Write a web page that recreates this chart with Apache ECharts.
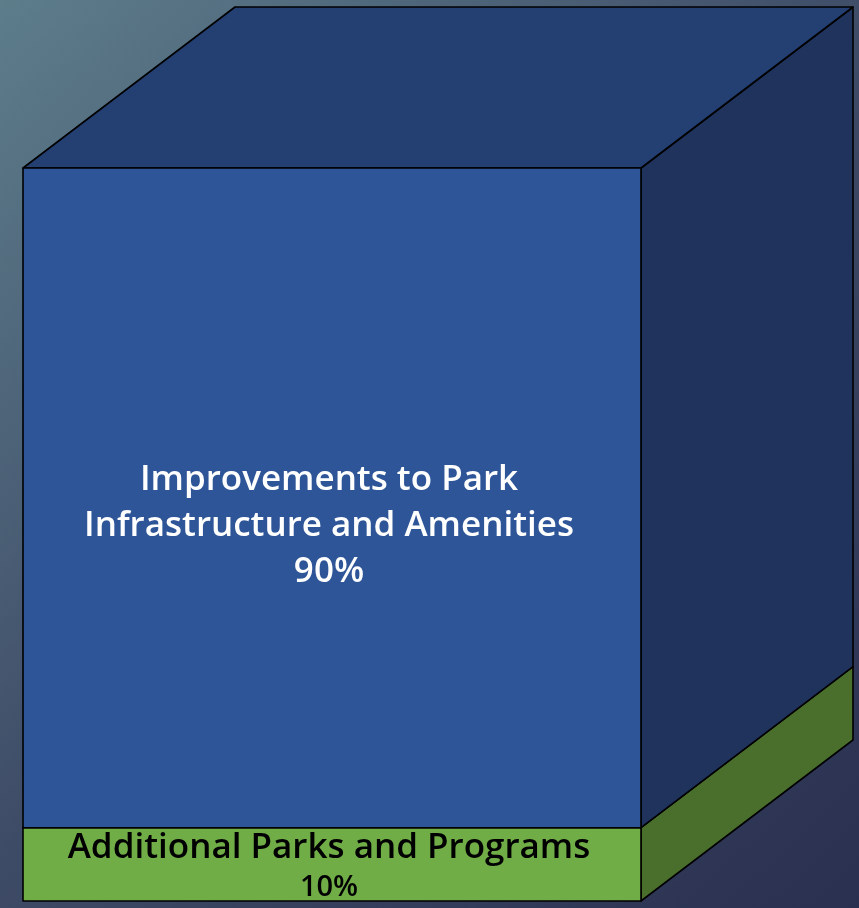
<!DOCTYPE html>
<html>
<head>
<meta charset="utf-8">
<script src="https://cdn.jsdelivr.net/npm/echarts@6/dist/echarts.min.js"></script>
<style>
html,body{margin:0;padding:0;width:859px;height:908px;overflow:hidden;}
#chart{width:859px;height:908px;}
</style>
</head>
<body>
<div id="chart"></div>
<script>
// ---- data ----
const categories = ['Budget'];
const segmentNames = ['Additional Parks and Programs', 'Improvements to Park Infrastructure and Amenities'];
const segmentLabels = ['Additional Parks and Programs', 'Improvements to Park\nInfrastructure and Amenities'];
const segmentValues = [10, 90];
const percentLabels = ['10%', '90%'];

// ---- style ----
const DEPTH_X = 212, DEPTH_Y = 161;
const palette = [
  { front: '#70ad47', side: '#4a6f2d', top: '#5b8a39', text: '#000000' },
  { front: '#2e5597', side: '#1f335d', top: '#243f72', text: '#ffffff' }
];
const labelOffsetY = [1, 28];

const chart = echarts.init(document.getElementById('chart'));

function makeRender(i) {
  return function (params, api) {
    const c = api.value(0);
    const p0 = api.coord([c, api.value(1)]);
    const p1 = api.coord([c, api.value(2)]);
    const bw = api.size([1, 0])[0];
    const l = p0[0] - bw / 2, r = p0[0] + bw / 2;
    const yb = p0[1], yt = p1[1];
    const col = palette[i];
    const stroke = { stroke: '#000', lineWidth: 1.6, lineJoin: 'round' };
    const children = [];
    children.push({ type: 'polygon', shape: { points: [[r, yt], [r + DEPTH_X, yt - DEPTH_Y], [r + DEPTH_X, yb - DEPTH_Y], [r, yb]] },
      style: Object.assign({ fill: col.side }, stroke) });
    if (i === segmentValues.length - 1) {
      children.push({ type: 'polygon', shape: { points: [[l, yt], [l + DEPTH_X, yt - DEPTH_Y], [r + DEPTH_X, yt - DEPTH_Y], [r, yt]] },
        style: Object.assign({ fill: col.top }, stroke) });
    }
    children.push({ type: 'rect', shape: { x: l, y: yt, width: r - l, height: yb - yt },
      style: Object.assign({ fill: col.front }, stroke) });
    const cx = (l + r) / 2 - 3, cy = (yt + yb) / 2 + labelOffsetY[i];
    if (i === 1) {
      children.push({ type: 'text', x: cx, y: cy, style: {
        text: segmentLabels[i] + '\n' + percentLabels[i], fill: col.text,
        font: '600 35px "Open Sans"', lineHeight: 46, align: 'center', verticalAlign: 'middle' } });
    } else {
      children.push({ type: 'group', clipPath: { type: 'rect', shape: { x: l, y: yt, width: r - l, height: yb - yt } }, children: [
        { type: 'text', x: cx, y: yt + 20, style: { text: segmentLabels[i], fill: col.text,
          font: '600 35px "Open Sans"', align: 'center', verticalAlign: 'middle' } },
        { type: 'text', x: cx, y: yt + 60, style: { text: percentLabels[i], fill: col.text,
          font: '600 29px "Open Sans"', align: 'center', verticalAlign: 'middle' } }
      ] });
    }
    return { type: 'group', children };
  };
}

const series = segmentNames.map((name, i) => {
  const base = segmentValues.slice(0, i).reduce((a, b) => a + b, 0);
  return {
    type: 'custom', name,
    data: [[0, base, base + segmentValues[i]]],
    encode: { x: 0, y: [1, 2] },
    renderItem: makeRender(i),
    z: 2 + i
  };
});

chart.setOption({
  animation: false,
  backgroundColor: { type: 'linear', x: 0, y: 0, x2: 1, y2: 1, colorStops: [
    { offset: 0, color: '#5d7d8b' }, { offset: 0.5, color: '#3e4b66' }, { offset: 1, color: '#2a3050' } ] },
  grid: { left: 23, right: 218, top: 168, bottom: 7 },
  xAxis: { type: 'category', data: categories, show: false },
  yAxis: { type: 'value', min: 0, max: 100, show: false },
  series
});
</script>
</body>
</html>
